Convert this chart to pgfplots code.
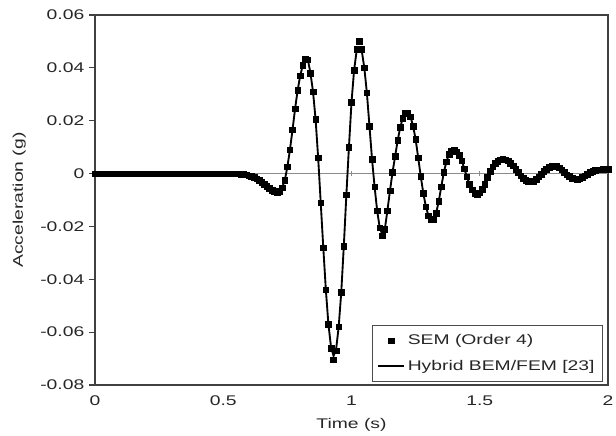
\documentclass[border=0pt]{standalone}
\usepackage{fontspec}
\setmainfont{Liberation Sans}[FakeStretch=1.38]
\usepackage{pgfplots}
\usepackage{pgfplotstable}
\pgfplotsset{compat=1.18}
\usetikzlibrary{calc}

% time (s), SEM order 4, hybrid BEM/FEM
\pgfplotstableread[row sep=\\]{
t sem hyb\\
0.00 0 0\\ 0.01 0 0\\ 0.02 0 0\\ 0.03 0 0\\ 0.04 0 0\\
0.05 0 0\\ 0.06 0 0\\ 0.07 0 0\\ 0.08 0 0\\ 0.09 0 0\\
0.10 0 0\\ 0.11 0 0\\ 0.12 0 0\\ 0.13 0 0\\ 0.14 0 0\\
0.15 0 0\\ 0.16 0 0\\ 0.17 0 0\\ 0.18 0 0\\ 0.19 0 0\\
0.20 0 0\\ 0.21 0 0\\ 0.22 0 0\\ 0.23 0 0\\ 0.24 0 0\\
0.25 0 0\\ 0.26 0 0\\ 0.27 0 0\\ 0.28 0 0\\ 0.29 0 0\\
0.30 0 0\\ 0.31 0 0\\ 0.32 0 0\\ 0.33 0 0\\ 0.34 0 0\\
0.35 0 0\\ 0.36 0 0\\ 0.37 0 0\\ 0.38 0 0\\ 0.39 0 0\\
0.40 0 0\\ 0.41 0 0\\ 0.42 0 0\\ 0.43 0 0\\ 0.44 0 0\\
0.45 0 0\\ 0.46 0 0\\ 0.47 0 0\\ 0.48 0 0\\ 0.49 0 0\\
0.50 0 0\\ 0.51 0 0\\ 0.52 0 0\\ 0.53 0 0\\ 0.54 0 0\\
0.55 0 0\\ 0.56 -0.0001 -0.0001\\ 0.57 -0.0002 -0.0002\\ 0.58 -0.0003 -0.0003\\ 0.59 -0.0005 -0.0005\\
0.60 -0.0008 -0.0008\\ 0.61 -0.0011 -0.0011\\ 0.62 -0.0015 -0.0015\\ 0.63 -0.0020 -0.0020\\ 0.64 -0.0026 -0.0026\\
0.65 -0.0033 -0.0033\\ 0.66 -0.0040 -0.0040\\ 0.67 -0.0048 -0.0048\\ 0.68 -0.0056 -0.0056\\ 0.69 -0.0063 -0.0063\\
0.70 -0.0068 -0.0068\\ 0.71 -0.0070 -0.0070\\ 0.72 -0.0066 -0.0066\\ 0.73 -0.0053 -0.0053\\ 0.74 -0.0025 -0.0025\\
0.75 0.0025 0.0025\\ 0.76 0.0090 0.0090\\ 0.77 0.0165 0.0165\\ 0.78 0.0245 0.0245\\ 0.79 0.0315 0.0315\\
0.80 0.0370 0.0370\\ 0.81 0.0410 0.0410\\ 0.82 0.0435 0.0435\\ 0.83 0.0430 0.0430\\ 0.84 0.0380 0.0380\\
0.85 0.0310 0.0310\\ 0.86 0.0205 0.0205\\ 0.87 0.0060 0.0060\\ 0.88 -0.0110 -0.0110\\ 0.89 -0.0280 -0.0280\\
0.90 -0.0440 -0.0440\\ 0.91 -0.0570 -0.0570\\ 0.92 -0.0660 -0.0655\\ 0.93 -0.0705 -0.0690\\ 0.94 -0.0670 -0.0665\\
0.95 -0.0580 -0.0580\\ 0.96 -0.0450 -0.0450\\ 0.97 -0.0275 -0.0275\\ 0.98 -0.0080 -0.0080\\ 0.99 0.0100 0.0100\\
1.00 0.0270 0.0270\\ 1.01 0.0390 0.0390\\ 1.02 0.0470 0.0465\\ 1.03 0.0500 0.0475\\ 1.04 0.0470 0.0465\\
1.05 0.0400 0.0400\\ 1.06 0.0305 0.0305\\ 1.07 0.0180 0.0180\\ 1.08 0.0055 0.0055\\ 1.09 -0.0050 -0.0050\\
1.10 -0.0140 -0.0140\\ 1.11 -0.0205 -0.0205\\ 1.12 -0.0235 -0.0230\\ 1.13 -0.0210 -0.0210\\ 1.14 -0.0140 -0.0140\\
1.15 -0.0065 -0.0065\\ 1.16 0.0005 0.0005\\ 1.17 0.0065 0.0065\\ 1.18 0.0125 0.0125\\ 1.19 0.0175 0.0175\\
1.20 0.0210 0.0210\\ 1.21 0.0228 0.0228\\ 1.22 0.0230 0.0230\\ 1.23 0.0215 0.0215\\ 1.24 0.0180 0.0180\\
1.25 0.0130 0.0130\\ 1.26 0.0060 0.0060\\ 1.27 -0.0010 -0.0010\\ 1.28 -0.0075 -0.0075\\ 1.29 -0.0125 -0.0125\\
1.30 -0.0160 -0.0160\\ 1.31 -0.0175 -0.0175\\ 1.32 -0.0172 -0.0172\\ 1.33 -0.0150 -0.0150\\ 1.34 -0.0105 -0.0105\\
1.35 -0.0050 -0.0050\\ 1.36 0.0005 0.0005\\ 1.37 0.0045 0.0045\\ 1.38 0.0072 0.0072\\ 1.39 0.0085 0.0085\\
1.40 0.0088 0.0088\\ 1.41 0.0083 0.0083\\ 1.42 0.0070 0.0070\\ 1.43 0.0048 0.0048\\ 1.44 0.0018 0.0018\\
1.45 -0.0012 -0.0012\\ 1.46 -0.0040 -0.0040\\ 1.47 -0.0062 -0.0062\\ 1.48 -0.0075 -0.0075\\ 1.49 -0.0078 -0.0078\\
1.50 -0.0073 -0.0073\\ 1.51 -0.0060 -0.0060\\ 1.52 -0.0040 -0.0040\\ 1.53 -0.0015 -0.0015\\ 1.54 0.0008 0.0008\\
1.55 0.0025 0.0025\\ 1.56 0.0038 0.0038\\ 1.57 0.0047 0.0047\\ 1.58 0.0052 0.0052\\ 1.59 0.0053 0.0053\\
1.60 0.0052 0.0052\\ 1.61 0.0048 0.0048\\ 1.62 0.0040 0.0040\\ 1.63 0.0030 0.0030\\ 1.64 0.0017 0.0017\\
1.65 0.0004 0.0004\\ 1.66 -0.0008 -0.0008\\ 1.67 -0.0018 -0.0018\\ 1.68 -0.0026 -0.0026\\ 1.69 -0.0030 -0.0030\\
1.70 -0.0031 -0.0031\\ 1.71 -0.0028 -0.0028\\ 1.72 -0.0021 -0.0021\\ 1.73 -0.0012 -0.0012\\ 1.74 -0.0002 -0.0002\\
1.75 0.0008 0.0008\\ 1.76 0.0017 0.0017\\ 1.77 0.0024 0.0024\\ 1.78 0.0028 0.0028\\ 1.79 0.0029 0.0029\\
1.80 0.0027 0.0027\\ 1.81 0.0022 0.0022\\ 1.82 0.0014 0.0014\\ 1.83 0.0005 0.0005\\ 1.84 -0.0004 -0.0004\\
1.85 -0.0011 -0.0011\\ 1.86 -0.0017 -0.0017\\ 1.87 -0.0020 -0.0020\\ 1.88 -0.0021 -0.0021\\ 1.89 -0.0019 -0.0019\\
1.90 -0.0014 -0.0014\\ 1.91 -0.0008 -0.0008\\ 1.92 -0.0002 -0.0002\\ 1.93 0.0004 0.0004\\ 1.94 0.0008 0.0008\\
1.95 0.0012 0.0012\\ 1.96 0.0014 0.0014\\ 1.97 0.0015 0.0015\\ 1.98 0.0016 0.0016\\ 1.99 0.0016 0.0016\\
2.00 0.0016 0.0016\\
}\accel

\begin{document}
\begin{tikzpicture}
\begin{axis}[
  scale only axis, width=384.75pt, height=277.5pt,
  xmin=0, xmax=2, ymin=-0.08, ymax=0.06,
  scaled y ticks=false, scaled x ticks=false,
  xtick={0,0.5,1,1.5,2}, xticklabels={0,0.5,1,1.5,2},
  ytick={-0.08,-0.06,-0.04,-0.02,0,0.02,0.04,0.06},
  yticklabels={-0.08,-0.06,-0.04,-0.02,0,0.02,0.04,0.06},
  tick align=outside, ytick pos=left, xtick pos=bottom,
  xtick style={draw=none},
  ytick style={black!75, line width=0.9pt},
  major tick length=4.5pt,
  axis line style={black!75, line width=1.5pt},
  tick label style={font=\fontsize{10.5}{12}\selectfont, text=black!85},
  label style={font=\fontsize{10.5}{12}\selectfont, text=black!85},
  xlabel={Time (s)}, ylabel={Acceleration (g)},
  xlabel style={at={(ticklabel cs:0.5,3pt)}},
  ylabel style={at={(ticklabel cs:0.5,4pt)}},
  legend style={at={(rel axis cs:1,0)}, anchor=south east,
    xshift=-3.75pt, yshift=2.25pt, draw=black!70, line width=0.6pt,
    font=\fontsize{10.5}{12}\selectfont, text=black!85,
    row sep=6pt, inner xsep=4pt, inner ysep=5pt},
  legend image code/.code={\draw[mark repeat=2,mark phase=2,#1]
    plot coordinates {(0cm,0cm) (0.34cm,0cm) (0.68cm,0cm)};},
  legend cell align=left, reverse legend,
]
\draw[black!45, line width=0.8pt] (axis cs:0,0) -- (axis cs:2,0);
\draw[black!45, line width=0.6pt] (axis cs:0.5,-0.001) -- (axis cs:0.5,0.001);
\draw[black!45, line width=0.6pt] (axis cs:1,-0.001) -- (axis cs:1,0.001);
\draw[black!45, line width=0.6pt] (axis cs:1.5,-0.001) -- (axis cs:1.5,0.001);
\addplot[black, line width=1.4pt] table[x=t, y=hyb] {\accel};
\addlegendentry{Hybrid BEM/FEM [23]}
\addplot[only marks, mark=square*, mark size=2.1pt, black] table[x=t, y=sem] {\accel};
\addlegendentry{SEM (Order 4)}
\end{axis}
\pgfresetboundingbox
\path ($(current axis.south west)+(-71.25pt,-37.5pt)$) rectangle ($(current axis.north east)+(6pt,11.25pt)$);
\end{tikzpicture}
\end{document}
